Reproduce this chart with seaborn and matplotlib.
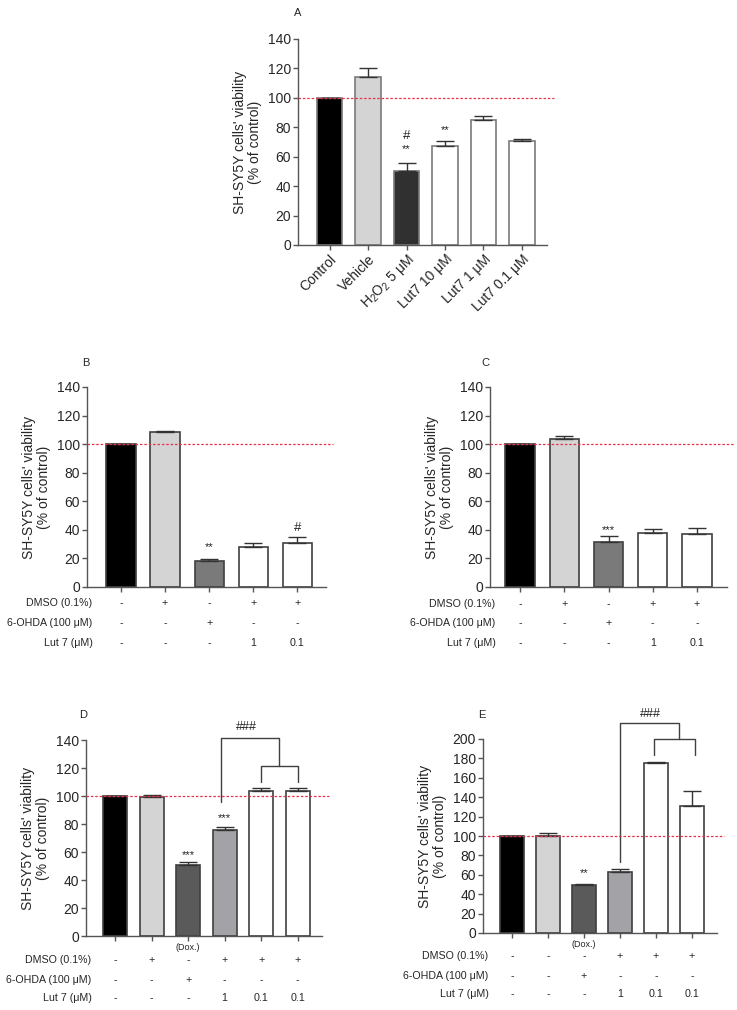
import matplotlib
matplotlib.use('Agg')
import matplotlib.pyplot as plt
import seaborn as sns
import numpy as np
import pandas as pd

sns.set_style('ticks')
plt.rcParams['font.family'] = ['Liberation Sans', 'DejaVu Sans']
plt.rcParams['mathtext.fontset'] = 'custom'
plt.rcParams['mathtext.rm'] = 'Liberation Sans'
plt.rcParams['mathtext.it'] = 'Liberation Sans:italic'

# ---- data ----
a_labels = ['Control', 'Vehicle', 'H$_2$O$_2$ 5 \u03bcM', 'Lut7 10 \u03bcM', 'Lut7 1 \u03bcM', 'Lut7 0.1 \u03bcM']
a_means = [100, 114.5, 50, 67, 85, 70.5]
a_errs = [0, 5.5, 6, 3.5, 3, 1.5]

b_means = [100, 108.5, 18, 28, 31]
b_errs = [0.3, 0.6, 1.5, 3, 4]

c_means = [100, 103.5, 31.5, 37.5, 37]
c_errs = [0.3, 2, 4.5, 3, 4.5]

d_means = [100, 99.5, 50.5, 76, 103.5, 103.5]
d_errs = [0.3, 1.5, 2.5, 2, 2, 2]

e_means = [100, 100.5, 49.5, 63, 175.5, 131]
e_errs = [0.3, 2.5, 1.5, 3, 1, 15]

row_names = ['DMSO (0.1%)', '6-OHDA (100 \u03bcM)', 'Lut 7 (\u03bcM)']
bc_rows = [['-', '+', '-', '+', '+'],
           ['-', '-', '+', '-', '-'],
           ['-', '-', '-', '1', '0.1']]
d_rows = [['-', '+', '-', '+', '+', '+'],
          ['-', '-', '+', '-', '-', '-'],
          ['-', '-', '-', '1', '0.1', '0.1']]
e_rows = [['-', '-', '-', '+', '+', '+'],
          ['-', '-', '+', '-', '-', '-'],
          ['-', '-', '-', '1', '0.1', '0.1']]

ylabel = "SH-SY5Y cells' viability\n(% of control)"
W, H = 737, 1010
fig = plt.figure(figsize=(W / 100, H / 100), dpi=100)


def make_ax(left, right, top, bottom):
    return fig.add_axes([left / W, 1 - bottom / H, (right - left) / W, (bottom - top) / H])


def panel(ax, means, errs, colors, edge, xlim, ymax, ystep):
    n = len(means)
    df = pd.DataFrame({'grp': [str(i) for i in range(n)], 'val': means})
    sns.barplot(data=df, x='grp', y='val', hue='grp', palette=dict(zip(df['grp'], colors)),
                legend=False, width=0.66, edgecolor=edge, linewidth=1.2, ax=ax, errorbar=None)
    ax.errorbar(range(n), means, yerr=[np.zeros(n), errs], fmt='none', ecolor='#333333',
                elinewidth=1, capsize=6.5, capthick=1, zorder=4)
    ax.set_xlim(*xlim)
    ax.set_ylim(0, ymax)
    ax.set_yticks(np.arange(0, ymax + 1, ystep))
    ax.axhline(100, xmin=0, xmax=1.03, color='#e8304a', lw=0.9, ls=(0, (2, 1.5)), clip_on=False, zorder=5)
    sns.despine(ax=ax)
    for s in ['left', 'bottom']:
        ax.spines[s].set_color('#555555')
        ax.spines[s].set_linewidth(1)
    ax.tick_params(axis='both', color='#555555', length=3.5, width=1, labelsize=10, pad=1.5)
    ax.set_xlabel('')
    ax.set_ylabel(ylabel, fontsize=10, linespacing=1.1, labelpad=4)


def table(ax, rows, offsets):
    ax.set_xticks(range(len(rows[0])))
    ax.set_xticklabels([])
    for name, row, off in zip(row_names, rows, offsets):
        ax.annotate(name, xy=(0, 0), xycoords='axes fraction', xytext=(4, -off),
                    textcoords='offset points', ha='right', va='center', fontsize=7.7)
        for i, t in enumerate(row):
            ax.annotate(t, xy=(i, 0), xycoords=ax.get_xaxis_transform(), xytext=(0, -off),
                        textcoords='offset points', ha='center', va='center', fontsize=7.7)


def note(ax, x, y, t, size=8):
    ax.text(x, y, t, ha='center', va='center', fontsize=size, color='#222222')


# ---- A ----
axA = make_ax(298, 547, 39, 245)
panel(axA, a_means, a_errs, ['black', '#d4d4d4', '#303030', 'white', 'white', 'white'],
      '#7a7a7a', (-0.82, 5.65), 140, 20)
axA.set_xticks(range(6))
axA.set_xticklabels(a_labels, rotation=45, ha='right', rotation_mode='anchor', fontsize=10)
note(axA, 2, 65, '**')
note(axA, 2, 74, '#', 9.5)
note(axA, 3, 78, '**')

# ---- B ----
axB = make_ax(87, 326, 387, 587)
panel(axB, b_means, b_errs, ['black', '#d4d4d4', '#7a7a7a', 'white', 'white'],
      '#404040', (-0.77, 4.65), 140, 20)
table(axB, bc_rows, [11.7, 26.1, 40.5])
note(axB, 2, 28, '**')
note(axB, 4, 41, '#', 9.5)

# ---- C ----
axC = make_ax(490, 727, 387, 587)
panel(axC, c_means, c_errs, ['black', '#d4d4d4', '#7a7a7a', 'white', 'white'],
      '#404040', (-0.68, 4.68), 140, 20)
table(axC, bc_rows, [12.2, 26, 40.3])
note(axC, 2, 40, '***')

# ---- D ----
axD = make_ax(86, 322, 740, 936)
panel(axD, d_means, d_errs, ['black', '#d4d4d4', '#5a5a5a', '#a2a2a8', 'white', 'white'],
      '#404040', (-0.8, 5.67), 140, 20)
table(axD, d_rows, [17.3, 31.7, 44.6])
axD.annotate('(Dox.)', xy=(2, 0), xycoords=axD.get_xaxis_transform(), xytext=(0, -8.6),
             textcoords='offset points', ha='center', va='center', fontsize=6.5)
note(axD, 2, 58, '***')
note(axD, 3, 84, '***')
bk = dict(color='#404040', lw=1, clip_on=False)
axD.plot([2.9, 2.9, 4.5, 4.5], [96, 141.5, 141.5, 121.5], **bk)
axD.plot([4, 4, 5, 5], [110, 121.5, 121.5, 110], **bk)
note(axD, 3.6, 149, '###', 9)

# ---- E ----
axE = make_ax(483, 717, 739, 933)
panel(axE, e_means, e_errs, ['black', '#d4d4d4', '#5a5a5a', '#a2a2a8', 'white', 'white'],
      '#404040', (-0.8, 5.7), 200, 20)
table(axE, e_rows, [16.6, 31, 43.9])
axE.annotate('(Dox.)', xy=(2, 0), xycoords=axE.get_xaxis_transform(), xytext=(0, -8.6),
             textcoords='offset points', ha='center', va='center', fontsize=6.5)
note(axE, 2, 62, '**')
axE.plot([3, 3, 4.65, 4.65], [73, 216, 216, 200.5], **bk)
axE.plot([3.95, 3.95, 5.1, 5.1], [183.5, 200.5, 200.5, 183.5], **bk)
note(axE, 3.85, 226, '###', 9)

# ---- panel letters ----
for t, x, y in [('A', 298, 13), ('B', 86, 363), ('C', 485, 363), ('D', 83, 715), ('E', 482, 715)]:
    fig.text(x / W, 1 - y / H, t, ha='center', va='center', fontsize=8)

fig.savefig('out.png', dpi=100)
